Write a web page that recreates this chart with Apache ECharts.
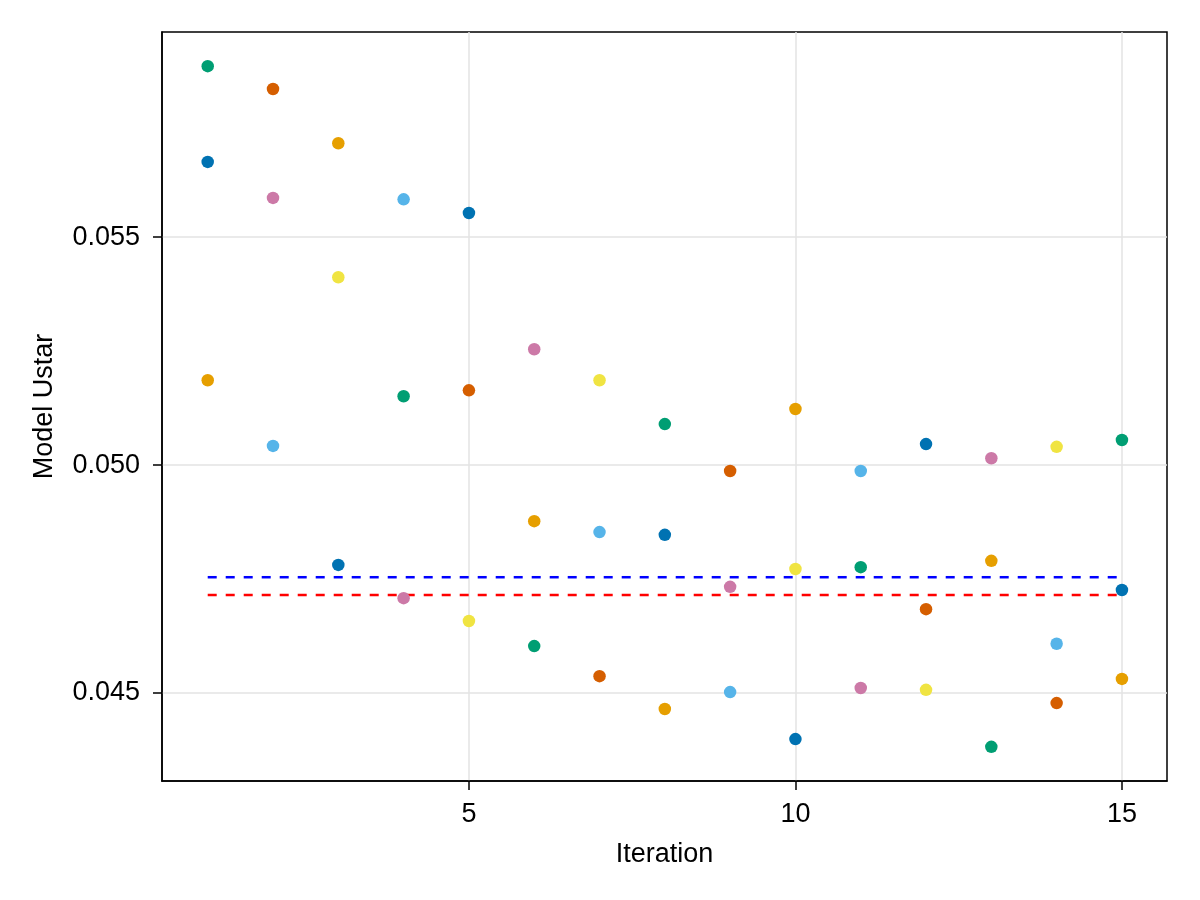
<!DOCTYPE html>
<html lang="en">
<head>
    <meta charset="UTF-8">
    <title>Model Ustar</title>
    <script src="https://cdn.jsdelivr.net/npm/echarts@6/dist/echarts.min.js"></script>
    <style>
        html, body { margin: 0; padding: 0; background: #fff; }
    </style>
</head>
<body>
<div style="width:1200px;height:900px" id="myChart"></div>
<script type="text/javascript">
    // data: 3 samples per iteration
    var iterations = [1, 2, 3, 4, 5, 6, 7, 8, 9, 10, 11, 12, 13, 14, 15];
    var sampleA = [0.05665, 0.05586, 0.05412, 0.05151, 0.05164, 0.04877, 0.04853, 0.04847, 0.04733, 0.04772, 0.04776, 0.04684, 0.04790, 0.04608, 0.04726];
    var sampleB = [0.05186, 0.05042, 0.04781, 0.04708, 0.04658, 0.04603, 0.04537, 0.04465, 0.04502, 0.04399, 0.04511, 0.04507, 0.04382, 0.04478, 0.04531];
    var sampleC = [0.05875, 0.05825, 0.05706, 0.05583, 0.05553, 0.05254, 0.05186, 0.05090, 0.04987, 0.05123, 0.04987, 0.05046, 0.05015, 0.05040, 0.05055];
    var refBlue = 0.04754;
    var refRed = 0.04715;
    var xTicks = [5, 10, 15];
    var yTicks = [0.045, 0.050, 0.055];
    var palette = ['#0072B2', '#E69F00', '#009E73', '#CC79A7', '#56B4E9', '#D55E00', '#F0E442'];

    // colours cycle through the palette in plotting order
    var points = [];
    var k = 0;
    for (var i = 0; i < iterations.length; i++) {
        [sampleA, sampleB, sampleC].forEach(function (s) {
            points.push({
                value: [iterations[i], s[i]],
                itemStyle: {color: palette[k % palette.length]}
            });
            k++;
        });
    }

    var first = iterations[0], last = iterations[iterations.length - 1];
    var font = 'Liberation Sans, Arial, sans-serif';

    var myChart = echarts.init(document.getElementById('myChart'));
    myChart.setOption({
        animation: false,
        backgroundColor: '#fff',
        grid: {
            left: 162, right: 33, top: 32, bottom: 119,
            show: true, borderColor: '#000', borderWidth: 1.5
        },
        xAxis: {
            type: 'value',
            min: 0.3, max: 15.69,
            name: 'Iteration',
            nameLocation: 'middle',
            nameGap: 60,
            nameTextStyle: {fontFamily: font, fontSize: 27, color: '#000'},
            axisLine: {show: true, onZero: false, lineStyle: {color: '#000', width: 1.5}},
            axisTick: {show: true, inside: false, length: 9, customValues: xTicks, lineStyle: {color: '#000', width: 1.5}},
            axisLabel: {customValues: xTicks, margin: 20, fontFamily: font, fontSize: 27, color: '#000'},
            splitLine: {show: true, lineStyle: {color: '#e3e3e3', width: 1.5}}
        },
        yAxis: {
            type: 'value',
            min: 0.04307, max: 0.0595,
            name: 'Model Ustar',
            nameLocation: 'middle',
            nameGap: 104,
            nameTextStyle: {fontFamily: font, fontSize: 27, color: '#000'},
            axisLine: {show: true, onZero: false, lineStyle: {color: '#000', width: 1.5}},
            axisTick: {show: true, inside: false, length: 9, customValues: yTicks, lineStyle: {color: '#000', width: 1.5}},
            axisLabel: {
                customValues: yTicks, margin: 22, fontFamily: font, fontSize: 27, color: '#000',
                formatter: function (v) { return v.toFixed(3); }
            },
            splitLine: {show: true, lineStyle: {color: '#e3e3e3', width: 1.5}}
        },
        series: [
            {
                type: 'line',
                data: [[first, refBlue], [last, refBlue]],
                symbol: 'none',
                lineStyle: {color: '#0000ff', width: 2.5, type: [9, 9]},
                z: 2
            },
            {
                type: 'line',
                data: [[first, refRed], [last, refRed]],
                symbol: 'none',
                lineStyle: {color: '#ff0000', width: 2.5, type: [9, 9]},
                z: 2
            },
            {
                type: 'scatter',
                data: points,
                symbolSize: 12.5,
                itemStyle: {opacity: 1},
                z: 3
            }
        ]
    });
</script>
</body>
</html>
